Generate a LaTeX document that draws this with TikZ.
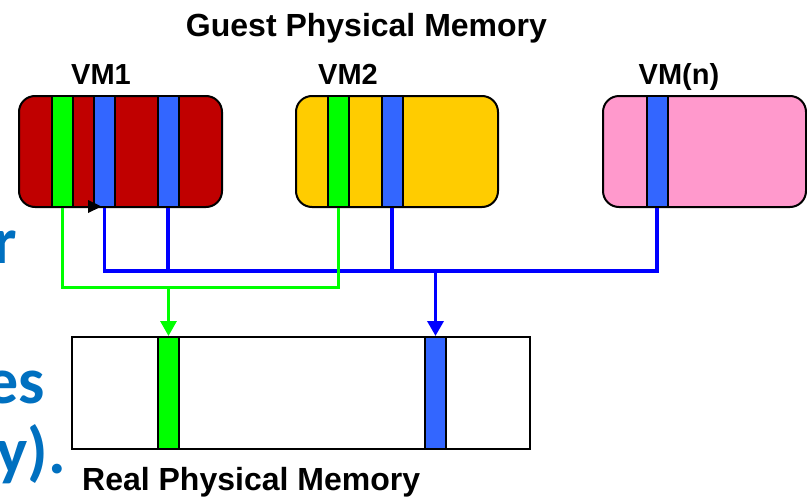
\documentclass[tikz,border=0pt]{standalone}
\usepackage{fontspec}
\setmainfont{Liberation Sans}
\newfontfamily\notefont{Carlito}
\usetikzlibrary{arrows.meta}
\definecolor{vmred}{HTML}{C00000}
\definecolor{vmyellow}{HTML}{FFCC00}
\definecolor{vmpink}{HTML}{FF99CC}
\definecolor{pageblue}{HTML}{3366FF}
\definecolor{pagegreen}{HTML}{00FF00}
\definecolor{linkblue}{HTML}{0000FF}
\definecolor{notecolor}{HTML}{0070C0}
\begin{document}
\begin{tikzpicture}[x=1pt,y=-1pt,
  membox/.style={draw=black, line width=2pt, rounded corners=16pt,
    minimum width=#1, minimum height=111pt, inner sep=0pt},
  realbox/.style={draw=black, line width=2pt, fill=white,
    minimum width=458pt, minimum height=112pt, inner sep=0pt},
  page/.style={draw=black, line width=2pt, fill=#1,
    minimum width=21pt, minimum height=111pt, inner sep=0pt},
  title/.style={font=\bfseries\fontsize{32}{38}\selectfont, inner sep=0pt},
  vmlabel/.style={font=\bfseries\fontsize{29}{35}\selectfont, inner sep=0pt, anchor=base},
  note/.style={font=\notefont\bfseries\fontsize{66}{78}\selectfont,
    text=notecolor, inner sep=0pt, anchor=base east},
  gline/.style={draw=pagegreen, line width=3pt},
  bline/.style={draw=linkblue, line width=3.5pt},
  tip/.style={-{Triangle[length=15pt, width=16pt]}}
]
\clip (0,0) rectangle (807,501);
\fill[white] (0,0) rectangle (807,501);

% Titles
\node[title, anchor=base] (guest) at (366.5,36) {Guest Physical Memory};
\node[title, anchor=base west] (real) at (82,490) {Real Physical Memory};
\node[vmlabel] (l1) at (101,84) {VM1};
\node[vmlabel] (l2) at (348,84) {VM2};
\node[vmlabel] (ln) at (679,84) {VM(n)};

% Fragments of the side text, running off the left edge
\node[note] (n1) at (17,263) {r};
\node[note] (n2) at (45,403) {es};
\node[note] (n3) at (66,473) {ry).};

% Guest memory of each VM
\node[membox=203pt, fill=vmred] (vm1) at (120.5,151.5) {};
\node[membox=202pt, fill=vmyellow] (vm2) at (397,151.5) {};
\node[membox=203pt, fill=vmpink] (vmn) at (704.5,151.5) {};

\node[page=pagegreen] (g1) at (62,151.5) {};
\node[page=pageblue] (b1) at (104.5,151.5) {};
\node[page=pageblue] (b2) at (168,151.5) {};
\node[page=pagegreen] (g2) at (338.5,151.5) {};
\node[page=pageblue] (b3) at (392,151.5) {};
\node[page=pageblue] (bn) at (657,151.5) {};

% Real memory
\node[realbox] (rm) at (301,393) {};
\node[page=pagegreen, minimum height=112pt] (rg) at (168.5,393) {};
\node[page=pageblue, minimum height=112pt] (rb) at (435.5,393) {};

% Shared page buses
\coordinate (gbus) at (0,287);
\coordinate (bbus) at (0,271);

\draw[bline] (b1.south) -- (b1.south |- bbus) -| (bn.south);
\draw[bline] (b2.south) -- (b2.south |- bbus);
\draw[bline] (b3.south) -- (b3.south |- bbus);
\draw[bline, tip, draw=linkblue, fill=linkblue] (rb.north |- bbus) -- (rb.north);

\draw[gline] (g1.south) -- (g1.south |- gbus) -| (g2.south);
\draw[gline, tip, fill=pagegreen] (rg.north |- gbus) -- (rg.north);

% Small black marker at the first blue page
\coordinate (mk) at (88,206.5);
\fill[black] (mk) ++(0,-6.5) -- ++(13.5,6.5) -- ++(-13.5,6.5) -- cycle;
\end{tikzpicture}
\end{document}
